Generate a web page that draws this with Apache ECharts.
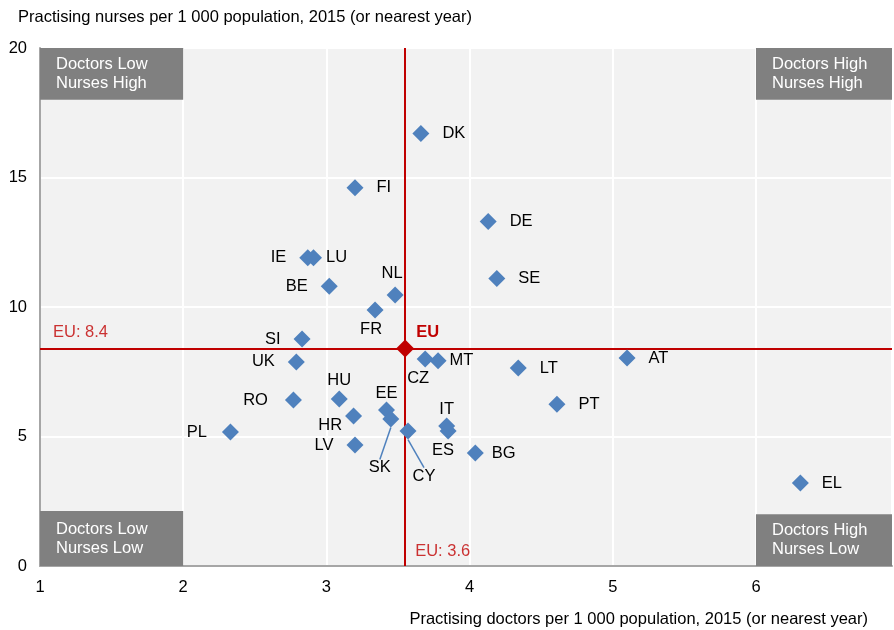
<!DOCTYPE html>
<html>
<head>
<meta charset="utf-8">
<script src="https://cdn.jsdelivr.net/npm/echarts@6/dist/echarts.min.js"></script>
<style>html,body{margin:0;padding:0;background:#fff}#c{width:894px;height:630px}</style>
</head>
<body>
<div id="c"></div>
<script>
// ---- data ----
const countries = ['DK','FI','DE','IE','LU','SE','BE','NL','FR','SI','UK','CZ','MT','LT','AT','HU','RO','EE','SK','HR','PT','IT','ES','CY','PL','LV','BG','EL'];
const doctors   = [3.66,3.20,4.13,2.87,2.91,4.19,3.02,3.48,3.34,2.83,2.79,3.69,3.78,4.34,5.10,3.09,2.77,3.42,3.45,3.19,4.61,3.84,3.85,3.57,2.33,3.20,4.04,6.31];
const nurses    = [16.7,14.6,13.3,11.9,11.9,11.1,10.8,10.46,9.88,8.76,7.88,7.99,7.92,7.64,8.03,6.45,6.41,6.02,5.68,5.79,6.25,5.41,5.21,5.21,5.17,4.67,4.36,3.2];
const euDoctors = 3.55;
const euNurses  = 8.4;
const euDoctorsLabel = 'EU: 3.6';
const euNursesLabel  = 'EU: 8.4';
const xTicks = [1,2,3,4,5,6];
const yTicks = [0,5,10,15,20];
const quadrantNames = ['Doctors Low\nNurses High','Doctors High\nNurses High','Doctors Low\nNurses Low','Doctors High\nNurses Low'];

// ---- label placement (style) ----
const place = {
  DK:'right', FI:'right', DE:'right', IE:'left', LU:'right', SE:'right', BE:'left',
  NL:'top', FR:'bottom', SI:'left', UK:'left', CZ:'bottom', MT:'right', LT:'right',
  AT:'right', HU:'top', RO:'left', EE:'top', SK:'bottom', HR:'left', PT:'right',
  IT:'top', ES:'bottom', CY:'bottom', PL:'left', LV:'left', BG:'right', EL:'right'
};
const shift = {
  LU:[-9,0], NL:[-3,0], FR:[-4,0], CZ:[-7,0], MT:[-10,0], HU:[0,4], EE:[0,5],
  HR:[10,9], IT:[0,6], ES:[-5,0], BG:[-5,0], PL:[-2,0], RO:[-4,0],
  SK:[-11,30], CY:[16,26]
};
const withLeader = ['SK','CY'];

const BLUE = '#4f81bd', RED = '#c00000', GREY = '#808080';
const FONT = 'Liberation Sans, Arial, sans-serif';
const FS = 16.5;

const pointData = countries.map((c, i) => {
  const pos = place[c];
  let dist = (pos === 'left' || pos === 'right') ? 13 : (pos === 'top' ? 5 : 2);
  const item = {
    name: c,
    value: [doctors[i], nurses[i]],
    label: { position: pos, distance: dist }
  };
  if (withLeader.includes(c)) item.labelLine = { show: true };
  return item;
});

const xMax = 6.95;

const chart = echarts.init(document.getElementById('c'));
chart.setOption({
  animation: false,
  backgroundColor: '#fff',
  textStyle: { fontFamily: FONT },
  grid: { left: 40, right: 2, top: 48, bottom: 64, show: true, backgroundColor: '#f2f2f2', borderColor: '#a6a6a6', borderWidth: 1 },
  xAxis: {
    type: 'value', min: 1, max: xMax, interval: 1,
    axisLine: { show: true, lineStyle: { color: '#a6a6a6', width: 2 } },
    axisTick: { show: false },
    splitLine: { show: true, lineStyle: { color: '#ffffff', width: 2 } },
    axisLabel: { color: '#000', fontSize: FS, fontFamily: FONT, margin: 13, showMaxLabel: false,
      formatter: v => xTicks.includes(v) ? String(v) : '' }
  },
  yAxis: {
    type: 'value', min: 0, max: 20, interval: 5,
    axisLine: { show: true, lineStyle: { color: '#a6a6a6', width: 2 } },
    axisTick: { show: false },
    splitLine: { show: true, lineStyle: { color: '#ffffff', width: 2 } },
    axisLabel: { color: '#000', fontSize: FS, fontFamily: FONT, margin: 13,
      formatter: v => yTicks.includes(v) ? String(v) : '' }
  },
  graphic: [
    { type: 'text', left: 18, top: 9, style: { text: 'Practising nurses per 1 000 population, 2015 (or nearest year)', fill: '#000', font: FS + 'px ' + FONT } },
    { type: 'text', right: 26, top: 611, style: { text: 'Practising doctors per 1 000 population, 2015 (or nearest year)', fill: '#000', font: FS + 'px ' + FONT } }
  ],
  series: [
    {
      type: 'scatter', name: 'quadrants', data: [], silent: true,
      markArea: {
        silent: true,
        itemStyle: { color: GREY, opacity: 1 },
        label: { color: '#fff', fontSize: FS, fontFamily: FONT, lineHeight: 19, position: 'insideLeft', offset: [11, 0] },
        data: [
          [{ name: quadrantNames[0], xAxis: 1, yAxis: 18 }, { xAxis: 2, yAxis: 20 }],
          [{ name: quadrantNames[1], xAxis: 6, yAxis: 18 }, { xAxis: xMax, yAxis: 20 }],
          [{ name: quadrantNames[2], xAxis: 1, yAxis: 0 }, { xAxis: 2, yAxis: 2.12 }],
          [{ name: quadrantNames[3], xAxis: 6, yAxis: 0 }, { xAxis: xMax, yAxis: 2.0 }]
        ]
      },
      markLine: {
        silent: true, symbol: 'none', animation: false,
        lineStyle: { color: RED, width: 2, type: 'solid', opacity: 1 },
        label: { show: false },
        data: [ { xAxis: euDoctors }, { yAxis: euNurses } ]
      }
    },
    {
      type: 'scatter', name: 'countries', symbol: 'diamond', symbolSize: 17,
      itemStyle: { color: BLUE, opacity: 1 },
      label: { show: true, formatter: '{b}', color: '#000', fontSize: FS, fontFamily: FONT },
      labelLine: { show: false, lineStyle: { color: BLUE, width: 1.5 } },
      labelLayout: function (p) {
        const s = shift[countries[p.dataIndex]];
        if (s) return { dx: s[0], dy: s[1] };
        return {};
      },
      data: pointData,
      z: 5
    },
    {
      type: 'scatter', name: 'EU', symbol: 'diamond', symbolSize: 18,
      itemStyle: { color: RED, opacity: 1 },
      label: { show: true, formatter: 'EU', position: 'right', distance: 2, offset: [0, -16], color: RED, fontWeight: 'bold', fontSize: FS, fontFamily: FONT },
      data: [[euDoctors, euNurses]],
      z: 6
    },
    {
      type: 'scatter', name: 'annotations', symbolSize: 0, silent: true,
      label: { show: true, formatter: p => p.name, position: 'right', color: RED, fontSize: FS, fontFamily: FONT },
      data: [
        { name: euNursesLabel, value: [1, euNurses], label: { distance: 13, offset: [0, -16] } },
        { name: euDoctorsLabel, value: [euDoctors, 0], label: { distance: 10, offset: [0, -15] } }
      ]
    }
  ]
});
</script>
</body>
</html>
